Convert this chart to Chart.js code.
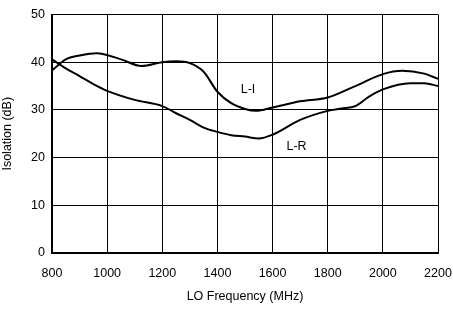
<!DOCTYPE html>
<html>
<head>
<meta charset="utf-8">
<script src="https://cdn.jsdelivr.net/npm/chart.js@4/dist/chart.umd.min.js"></script>
<style>
  html, body { margin: 0; padding: 0; background: #fff; }
</style>
</head>
<body>
<canvas id="isoChart" width="453" height="309"></canvas>
<script>
// L-I curve (upper at mid band)
const liFreq = [800, 850, 900, 962, 1050, 1125, 1200, 1252, 1300, 1350, 1400, 1450, 1500, 1540, 1600, 1700, 1800, 1900, 2000, 2070, 2150, 2200];
const liIso  = [38.3, 40.6, 41.4, 41.9, 40.6, 39.2, 40.0, 40.2, 39.8, 38.0, 33.8, 31.4, 30.2, 29.8, 30.5, 31.8, 32.6, 35.0, 37.5, 38.2, 37.6, 36.5];

// L-R curve
const lrFreq = [800, 850, 900, 950, 1000, 1100, 1200, 1250, 1300, 1350, 1400, 1450, 1500, 1550, 1600, 1700, 1800, 1850, 1900, 1950, 2000, 2100, 2150, 2200];
const lrIso  = [40.6, 38.7, 37.1, 35.4, 34.0, 32.1, 30.8, 29.3, 27.9, 26.3, 25.4, 24.7, 24.4, 24.0, 24.8, 27.9, 29.8, 30.3, 30.8, 32.8, 34.3, 35.6, 35.6, 35.0];

const xTicks = [800, 1000, 1200, 1400, 1600, 1800, 2000, 2200];
const yTicks = [0, 10, 20, 30, 40, 50];

// curve labels, placed in data units
const curveLabels = ["L-I", "L-R"];
const labelFreq = [1511, 1687];
const labelIso = [34.2, 22.3];

const FONT = "'Liberation Sans', Arial, sans-serif";

function pts(xs, ys) {
  return xs.map((x, i) => ({ x: x, y: ys[i] }));
}

const curveText = {
  id: 'curveText',
  afterDatasetsDraw(chart) {
    const ctx = chart.ctx;
    const xs = chart.scales.x, ys = chart.scales.y;
    ctx.save();
    ctx.font = "12.5px " + FONT;
    ctx.fillStyle = '#000';
    ctx.textAlign = 'center';
    ctx.textBaseline = 'middle';
    curveLabels.forEach((t, i) => {
      ctx.fillText(t, xs.getPixelForValue(labelFreq[i]), ys.getPixelForValue(labelIso[i]));
    });
    ctx.restore();
  }
};

new Chart(document.getElementById('isoChart'), {
  type: 'line',
  data: {
    datasets: [
      { label: 'L-I', data: pts(liFreq, liIso) },
      { label: 'L-R', data: pts(lrFreq, lrIso) }
    ]
  },
  options: {
    responsive: false,
    animation: false,
    layout: { padding: { left: 0, top: 14, right: 15, bottom: 0 } },
    elements: {
      point: { radius: 0 },
      line: { borderColor: '#000', borderWidth: 2, cubicInterpolationMode: 'monotone', fill: false }
    },
    plugins: { legend: { display: false }, tooltip: { enabled: false } },
    scales: {
      x: {
        type: 'linear', min: 800, max: 2200,
        afterBuildTicks: (s) => { s.ticks = xTicks.map(v => ({ value: v })); },
        afterFit: (s) => { s.height = 56; s.paddingRight = 0; s.paddingLeft = 0; },
        grid: { color: '#000', lineWidth: 1, drawTicks: false },
        border: { color: '#000', width: 2 },
        ticks: { color: '#000', padding: 13, font: { family: FONT, size: 12.5 }, maxRotation: 0, callback: (v) => String(v) },
        title: { display: true, text: 'LO Frequency (MHz)', color: '#000', font: { family: FONT, size: 12.5 }, padding: { top: 2, bottom: 5 } }
      },
      y: {
        min: 0, max: 50,
        afterBuildTicks: (s) => { s.ticks = yTicks.map(v => ({ value: v })); },
        afterFit: (s) => { s.width = 52; },
        grid: { color: '#000', lineWidth: 1, drawTicks: false },
        border: { color: '#000', width: 2 },
        ticks: { color: '#000', padding: 7, font: { family: FONT, size: 12.5 }, callback: (v) => String(v) },
        title: { display: true, text: 'Isolation (dB)', color: '#000', font: { family: FONT, size: 12.5 }, padding: { top: 0, bottom: 4 } }
      }
    }
  },
  plugins: [curveText]
});
</script>
</body>
</html>
